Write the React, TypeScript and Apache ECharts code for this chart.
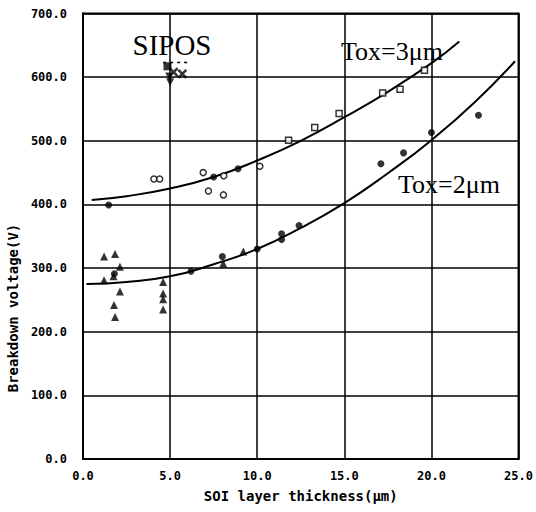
import React, { useEffect, useRef } from "react";
import * as echarts from "echarts";

// Tick labels
const xTicks = [0, 5, 10, 15, 20, 25];
const yTicks = [0, 100, 200, 300, 400, 500, 600, 700];

// Filled circles
const filledX = [1.47, 7.5, 8.9, 1.8, 6.2, 8.0, 10.0, 11.4, 11.4, 12.4, 17.1, 18.4, 20.0, 22.7];
const filledY = [399, 443, 456, 291, 295, 318, 330, 354, 345, 367, 464, 481, 513, 540];

// Open circles
const openCircX = [4.07, 4.4, 6.9, 7.2, 8.06, 8.08, 10.15];
const openCircY = [440, 440, 450, 421, 415, 445, 460];

// Open squares
const squareX = [11.8, 13.3, 14.7, 17.2, 18.2, 19.6];
const squareY = [501, 521, 543, 575, 581, 611];

// Filled triangles
const triX = [1.21, 1.84, 1.21, 2.12, 1.75, 2.12, 1.78, 1.84, 4.6, 4.6, 4.6, 4.6, 8.05, 9.2];
const triY = [318, 322, 281, 302, 287, 263, 242, 223, 278, 260, 251, 235, 307, 326];

// SIPOS points
const siposSquareX = [4.85];
const siposSquareY = [617];
const siposTriX = [4.95, 5.0];
const siposTriY = [601, 592];
const siposCrossX = [5.7, 5.2];
const siposCrossY = [605, 608];
const siposDashX = [4.6, 6.2];
const siposDashY = [623, 623];

// Fitted curves
const tox3X = [0.5, 2.5, 5.0, 7.5, 10.0, 12.5, 15.0, 17.5, 20.0, 21.6];
const tox3Y = [407, 413, 425, 443, 469, 500, 537, 577, 622, 656];
const tox2X = [0.2, 2.5, 5.0, 7.5, 10.0, 12.5, 15.0, 17.5, 20.0, 22.5, 24.8];
const tox2Y = [275, 278, 287, 306, 330, 363, 402, 449, 501, 561, 625];

const zip = (xs: number[], ys: number[]) => xs.map((x, i) => [x, ys[i]]);

const MONO = "'DejaVu Sans Mono', monospace";
const SERIF = "'Liberation Serif', 'Times New Roman', serif";

export default function App() {
  const ref = useRef<HTMLDivElement>(null);
  useEffect(() => {
    if (!ref.current) return;
    const chart = echarts.init(ref.current, undefined, { renderer: "svg" });
    const crossPath = "path://M0,0 L2,2 M2,0 L0,2";
    chart.setOption({
      animation: false,
      backgroundColor: "#fff",
      grid: {
        left: 83,
        right: 9,
        top: 13.5,
        bottom: 53,
        show: true,
        borderColor: "#000",
        borderWidth: 2,
      },
      xAxis: {
        type: "value",
        min: xTicks[0],
        max: xTicks[xTicks.length - 1],
        interval: 5,
        name: "SOI layer thickness(μm)",
        nameLocation: "middle",
        nameGap: 30,
        nameTextStyle: { fontFamily: MONO, fontWeight: "bold", fontSize: 14, color: "#000" },
        axisLine: { show: true, lineStyle: { color: "#000", width: 2 } },
        axisTick: { show: false },
        axisLabel: {
          fontFamily: MONO,
          fontWeight: "bold",
          fontSize: 12,
          color: "#000",
          margin: 11,
          formatter: (v: number) => v.toFixed(1),
        },
        splitLine: { show: true, lineStyle: { color: "#000", width: 1.5 } },
      },
      yAxis: {
        type: "value",
        min: yTicks[0],
        max: yTicks[yTicks.length - 1],
        interval: 100,
        axisLine: { show: true, lineStyle: { color: "#000", width: 2 } },
        axisTick: { show: false },
        axisLabel: {
          fontFamily: MONO,
          fontWeight: "bold",
          fontSize: 12,
          color: "#000",
          margin: 16,
          formatter: (v: number) => v.toFixed(1),
        },
        splitLine: { show: true, lineStyle: { color: "#000", width: 1.5 } },
      },
      graphic: [
        {
          type: "text",
          x: 13,
          y: 308,
          rotation: Math.PI / 2,
          style: {
            text: "Breakdown voltage(V)",
            font: `bold 14px ${MONO}`,
            fill: "#000",
            textAlign: "center",
            textVerticalAlign: "middle",
          },
        },
        {
          type: "text",
          x: 172,
          y: 45,
          style: {
            text: "SIPOS",
            font: `29px ${SERIF}`,
            fill: "#000",
            textAlign: "center",
            textVerticalAlign: "middle",
          },
        },
        {
          type: "text",
          x: 341,
          y: 51,
          style: {
            text: "Tox=3μm",
            font: `26px ${SERIF}`,
            fill: "#000",
            textAlign: "left",
            textVerticalAlign: "middle",
          },
        },
        {
          type: "text",
          x: 398,
          y: 184,
          style: {
            text: "Tox=2μm",
            font: `26px ${SERIF}`,
            fill: "#000",
            textAlign: "left",
            textVerticalAlign: "middle",
          },
        },
      ],
      series: [
        {
          type: "line",
          data: zip(tox3X, tox3Y),
          smooth: 0.5,
          showSymbol: false,
          lineStyle: { color: "#000", width: 2 },
          z: 2,
        },
        {
          type: "line",
          data: zip(tox2X, tox2Y),
          smooth: 0.5,
          showSymbol: false,
          lineStyle: { color: "#000", width: 2 },
          z: 2,
        },
        {
          type: "line",
          data: zip(siposDashX, siposDashY),
          showSymbol: false,
          lineStyle: { color: "#000", width: 1.5, type: [3, 4] },
          z: 2,
        },
        {
          type: "scatter",
          data: zip(filledX, filledY),
          symbol: "circle",
          symbolSize: 7,
          itemStyle: { color: "#000" },
          z: 5,
        },
        {
          type: "scatter",
          data: zip(openCircX, openCircY),
          symbol: "circle",
          symbolSize: 6,
          itemStyle: { color: "#fff", borderColor: "#000", borderWidth: 1.5 },
          z: 5,
        },
        {
          type: "scatter",
          data: zip(squareX, squareY),
          symbol: "rect",
          symbolSize: 6,
          itemStyle: { color: "#fff", borderColor: "#000", borderWidth: 1.5 },
          z: 5,
        },
        {
          type: "scatter",
          data: zip(triX, triY),
          symbol: "triangle",
          symbolSize: 8,
          itemStyle: { color: "#000" },
          z: 5,
        },
        {
          type: "scatter",
          data: zip(siposSquareX, siposSquareY),
          symbol: "rect",
          symbolSize: 8,
          itemStyle: { color: "#000" },
          z: 5,
        },
        {
          type: "scatter",
          data: zip(siposTriX, siposTriY),
          symbol: "triangle",
          symbolRotate: 180,
          symbolSize: 8,
          itemStyle: { color: "#000" },
          z: 5,
        },
        {
          type: "scatter",
          data: zip(siposCrossX, siposCrossY),
          symbol: crossPath,
          symbolSize: 8,
          itemStyle: { color: "none", borderColor: "#000", borderWidth: 2.5 },
          z: 5,
        },
      ],
    });
    return () => chart.dispose();
  }, []);
  return <div ref={ref} style={{ width: 536, height: 512, position: "absolute", left: 0, top: 0 }} />;
}
